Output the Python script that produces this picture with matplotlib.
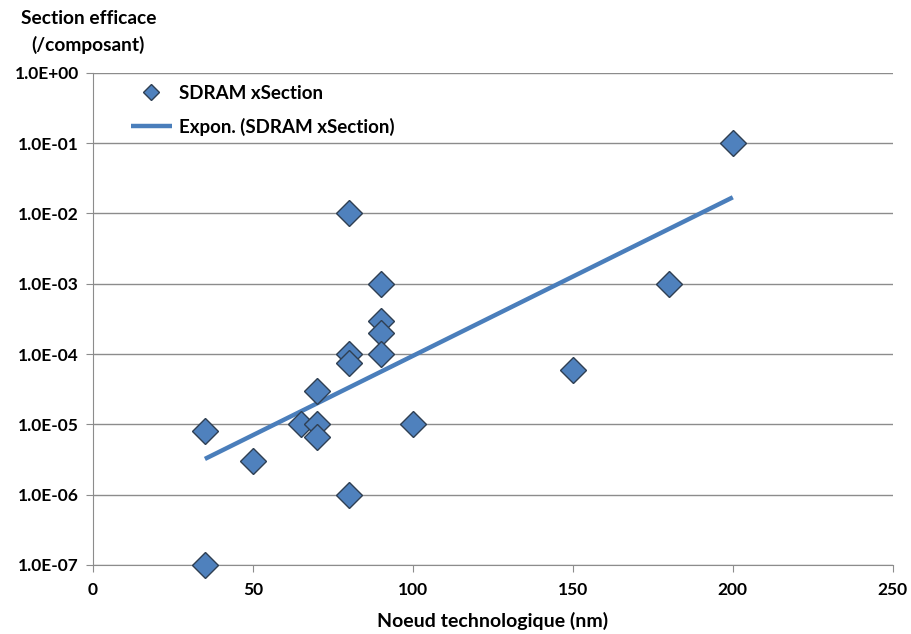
import numpy as np
import matplotlib
matplotlib.use('Agg')
import matplotlib.pyplot as plt
from matplotlib.ticker import FuncFormatter, FixedLocator

# technology node (nm) and cross section (/component)
node_nm = [35, 35, 50, 65, 70, 70, 70, 80, 80, 80, 80,
           90, 90, 90, 90, 100, 150, 180, 200]
xsection = [1e-7, 8e-6, 3e-6, 1e-5, 1e-5, 6.6e-6, 3e-5, 1e-2, 1e-4, 7.5e-5, 1e-6,
            1e-3, 3e-4, 2e-4, 1e-4, 1e-5, 6e-5, 1e-3, 1e-1]

series_name = 'SDRAM xSection'
trend_name = 'Expon. (SDRAM xSection)'
y_ticks = [1e-7, 1e-6, 1e-5, 1e-4, 1e-3, 1e-2, 1e-1, 1e0]
x_ticks = [0, 50, 100, 150, 200, 250]

plt.rcParams['font.family'] = ['Lato', 'DejaVu Sans']
plt.rcParams['font.weight'] = 'bold'

fig = plt.figure(figsize=(9.11, 6.34), dpi=100)
ax = fig.add_axes([0.102, 0.109, 0.878, 0.776])

# exponential trend line (least squares on log10), like Excel
b, a = np.polyfit(node_nm, np.log10(xsection), 1)
xt = np.linspace(min(node_nm), max(node_nm), 100)
ax.plot(xt, 10 ** (a + b * xt), color='#4A7EBB', lw=3.2,
        solid_capstyle='butt', label=trend_name, zorder=2)

ax.plot(node_nm, xsection, linestyle='none', marker='D', ms=13,
        mfc='#4F81BD', mec='#2f3f52', mew=1.0, label=series_name,
        zorder=3, clip_on=False)

ax.set_yscale('log')
ax.set_ylim(1e-7, 1)
ax.set_xlim(0, 250)
ax.yaxis.set_major_locator(FixedLocator(y_ticks))
ax.yaxis.set_minor_locator(FixedLocator([]))
ax.yaxis.set_major_formatter(FuncFormatter(lambda v, p: '{:.1E}'.format(v)))
ax.set_xticks(x_ticks)

ax.grid(axis='y', color='#8c8c8c', lw=1.0)
ax.set_axisbelow(True)
for s in ['top', 'right']:
    ax.spines[s].set_visible(False)
for s in ['left', 'bottom']:
    ax.spines[s].set_color('#8c8c8c')
ax.tick_params(axis='both', colors='#8c8c8c', labelcolor='black',
               labelsize=12.5, length=5)
ax.tick_params(axis='y', pad=5)
ax.tick_params(axis='x', pad=7)

ax.set_xlabel('Noeud technologique (nm)', fontsize=14, fontweight='bold',
              labelpad=10)
fig.text(0.097, 0.950, 'Section efficace\n(/composant)', ha='center',
         va='center', fontsize=13.8, fontweight='bold', linespacing=1.6)

handles, labels = ax.get_legend_handles_labels()
leg = ax.legend(handles[::-1], labels[::-1], loc='upper left',
                bbox_to_anchor=(0.026, 1.01), frameon=False, fontsize=13.5,
                handlelength=2.2, handletextpad=0.4, labelspacing=0.85,
                markerscale=0.6)

plt.savefig('out.png', dpi=100)
